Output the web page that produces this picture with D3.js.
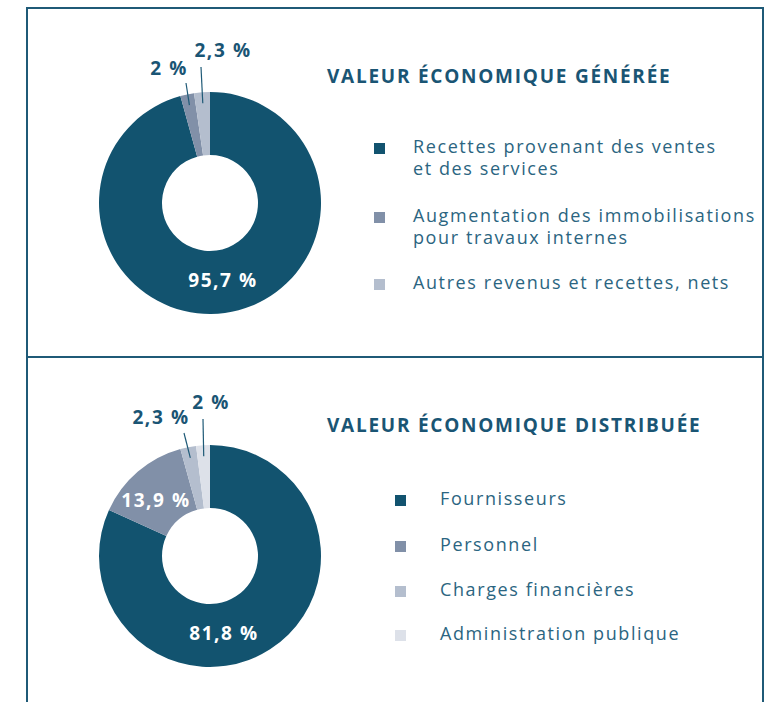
<!DOCTYPE html>
<html>
<head>
<meta charset="utf-8">
<script src="https://cdn.jsdelivr.net/npm/d3@7"></script>
<style>
  body { margin: 0; background: #fff; }
  svg { display: block; }
</style>
</head>
<body>
<div id="chart"></div>
<script>
var w = 779;
var h = 702;

// data
var genLabels = ['Recettes provenant des ventes|et des services',
                 'Augmentation des immobilisations|pour travaux internes',
                 'Autres revenus et recettes, nets'];
var genValues = [95.7, 2, 2.3];
var genText = ['95,7 %', '2 %', '2,3 %'];

var distLabels = ['Fournisseurs', 'Personnel', 'Charges financières', 'Administration publique'];
var distValues = [81.8, 13.9, 2.3, 2];
var distText = ['81,8 %', '13,9 %', '2,3 %', '2 %'];

var titles = ['VALEUR ÉCONOMIQUE GÉNÉRÉE', 'VALEUR ÉCONOMIQUE DISTRIBUÉE'];

var colors = ['#12536f', '#8190a8', '#b4bece', '#dde1e9'];
var font = "'Open Sans', sans-serif";

var svg = d3.select('#chart')
            .append('svg')
            .attr('width', w)
            .attr('height', h);

// frame
var frame = svg.append('g')
               .attr('fill', 'none')
               .attr('stroke', '#1f5a77')
               .attr('stroke-width', 2);
frame.append('path').attr('d', 'M27,' + h + 'V8H763V' + h);
frame.append('line').attr('x1', 27).attr('x2', 763).attr('y1', 357).attr('y2', 357);

var pie = d3.pie().sort(null).value(function(d){ return d; });
var arc = d3.arc().innerRadius(48).outerRadius(111);

// place: {tx, ty} for labels inside the ring, plus {lx, ly} for a leader line
function donut(cy, values, texts, place) {
    var g = svg.append('g').attr('transform', 'translate(210,' + cy + ')');
    var arcs = pie(values);

    g.selectAll('path')
     .data(arcs)
     .enter()
     .append('path')
     .attr('d', arc)
     .attr('fill', function(d, i){ return colors[i]; });

    arcs.forEach(function(d, i){
        var mid = (d.startAngle + d.endAngle) / 2;
        var o = place[i];
        if (o.lx !== undefined) {
            var p1 = [Math.sin(mid) * 100, -Math.cos(mid) * 100];
            g.append('line')
             .attr('x1', p1[0]).attr('y1', p1[1])
             .attr('x2', o.lx).attr('y2', o.ly)
             .attr('stroke', '#1f5a77')
             .attr('stroke-width', 1.2);
        }
        g.append('text')
         .attr('x', o.tx).attr('y', o.ty)
         .attr('text-anchor', 'middle')
         .attr('fill', o.lx !== undefined ? '#1a5574' : '#fff')
         .style('font', 'bold 19px ' + font)
         .style('letter-spacing', '1.6px')
         .text(texts[i]);
    });
    return g;
}

donut(203, genValues, genText, [
    {tx: 13, ty: 84},
    {lx: -24, ly: -120, tx: -41, ty: -128},
    {lx: -9, ly: -136, tx: 13, ty: -146}]);

donut(556, distValues, distText, [
    {tx: 14, ty: 84},
    {tx: -54, ty: -49},
    {lx: -26, ly: -123, tx: -49, ty: -132},
    {lx: -7, ly: -137, tx: 1, ty: -147}]);

// titles
[83, 432].forEach(function(y, i){
    svg.append('text')
       .attr('x', 327).attr('y', y)
       .attr('fill', '#1a5574')
       .style('font', 'bold 19px ' + font)
       .style('letter-spacing', '1.75px')
       .text(titles[i]);
});

// legends
function legend(x0, tx, ys, labels) {
    var g = svg.append('g');
    labels.forEach(function(l, i){
        var lines = l.split('|');
        g.append('rect')
         .attr('x', x0).attr('y', ys[i] - 10)
         .attr('width', 11).attr('height', 11)
         .attr('fill', colors[i]);
        lines.forEach(function(t, j){
            g.append('text')
             .attr('x', tx).attr('y', ys[i] + j * 22)
             .attr('fill', '#2b6581')
             .style('font', '18px ' + font)
             .style('letter-spacing', '1.6px')
             .text(t);
        });
    });
}

legend(374, 413, [153, 222, 289], genLabels);
legend(395, 440, [505, 551, 596, 640], distLabels);
</script>
</body>
</html>
